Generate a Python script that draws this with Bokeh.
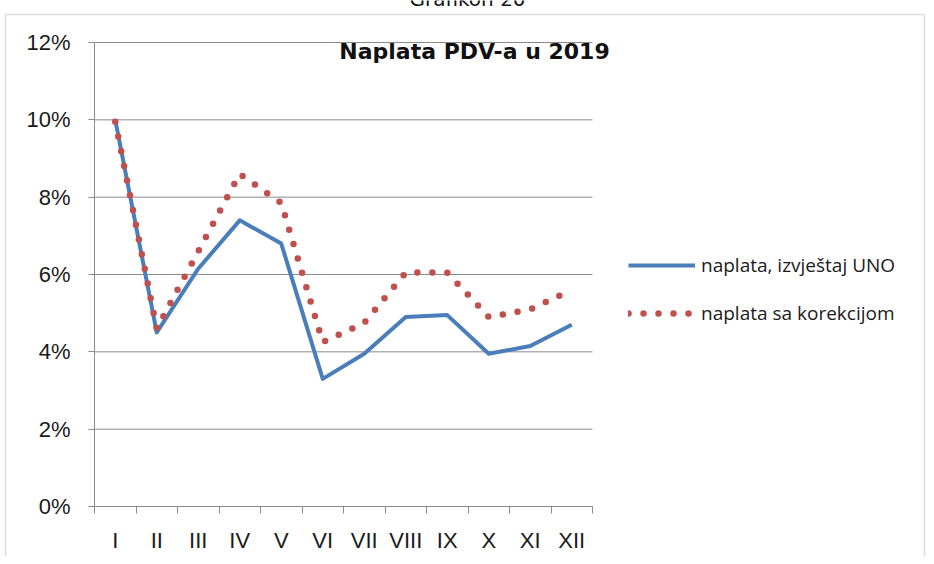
from bokeh.plotting import figure
from bokeh.models import (FixedTicker, Legend, LegendItem, Label, BoxAnnotation,
                          PrintfTickFormatter)
from bokeh.embed import file_html
from bokeh.resources import INLINE

months = ["I", "II", "III", "IV", "V", "VI", "VII", "VIII", "IX", "X", "XI", "XII"]
uno = [10.0, 4.5, 6.15, 7.4, 6.8, 3.3, 3.95, 4.9, 4.95, 3.95, 4.15, 4.7]
korekcija = [9.95, 4.6, 6.6, 8.6, 7.85, 4.25, 4.75, 6.05, 6.05, 4.9, 5.1, 5.6]
y_ticks = [0, 2, 4, 6, 8, 10, 12]

x = list(range(1, len(months) + 1))

# layout (pixels on the canvas)
W, H = 926, 556
AX_L, AX_R, AX_T, AX_B = 94, 592, 42, 506   # plotting area in canvas pixels
n = len(months)
x_lo, x_hi = 0.5, n + 0.5
y_lo, y_hi = y_ticks[0], y_ticks[-1]
xpp = (x_hi - x_lo) / (AX_R - AX_L)
ypp = (y_hi - y_lo) / (AX_B - AX_T)

p = figure(width=W, height=H, output_backend="svg", toolbar_location=None,
           x_range=(x_lo - AX_L * xpp, x_hi + (W - AX_R) * xpp),
           y_range=(y_lo - (H - AX_B) * ypp, y_hi + AX_T * ypp),
           min_border_left=0, min_border_right=0, min_border_top=0, min_border_bottom=0)
p.outline_line_color = None
p.background_fill_color = "white"
p.border_fill_color = "white"
p.xgrid.visible = False
p.ygrid.visible = False

grid_col = "#8a8a8a"
p.segment(x0=[x_lo] * len(y_ticks), x1=[x_hi] * len(y_ticks), y0=y_ticks, y1=y_ticks,
          line_color=grid_col, line_width=1)

p.yaxis.fixed_location = x_lo
p.yaxis.bounds = (y_lo, y_hi)
p.yaxis.ticker = FixedTicker(ticks=y_ticks)
p.yaxis.formatter = PrintfTickFormatter(format="%d%%")
p.yaxis.axis_line_color = grid_col
p.yaxis.major_tick_line_color = grid_col
p.yaxis.major_tick_out = 6
p.yaxis.major_tick_in = 0
p.yaxis.minor_tick_line_color = None
p.yaxis.major_label_standoff = 18

p.xaxis.fixed_location = y_lo
p.xaxis.bounds = (x_lo, x_hi)
p.xaxis.ticker = FixedTicker(ticks=x, minor_ticks=[i + 0.5 for i in range(0, n + 1)])
p.xaxis.major_label_overrides = {i: m for i, m in zip(x, months)}
p.xaxis.axis_line_color = grid_col
p.xaxis.major_tick_line_color = None
p.xaxis.major_tick_out = 0
p.xaxis.minor_tick_line_color = grid_col
p.xaxis.minor_tick_out = 7
p.xaxis.minor_tick_in = 0
p.xaxis.major_label_standoff = 14

for ax in (p.xaxis, p.yaxis):
    ax.major_label_text_font = "Liberation Sans"
    ax.major_label_text_font_size = "22px"
    ax.major_label_text_color = "#1a1a1a"

r1 = p.line(x, uno, line_color="#4a7ebb", line_width=4, line_join="round")
r2 = p.line(x, korekcija, line_color="#c0504d", line_width=6.5, line_dash="0 15",
            line_cap="round", line_join="round")

legend = Legend(items=[LegendItem(label="naplata, izvještaj UNO", renderers=[r1]),
                       LegendItem(label="naplata sa korekcijom", renderers=[r2])],
                location=(628, H - 326), orientation="vertical",
                glyph_width=67, glyph_height=24, label_height=24, spacing=22,
                padding=0, margin=0, label_standoff=6,
                border_line_color=None, background_fill_alpha=0,
                label_text_font="Open Sans", label_text_font_size="19px",
                label_text_color="#1a1a1a")
p.add_layout(legend, "center")

p.add_layout(Label(x=474, y=H - 51, x_units="screen", y_units="screen",
                   text="Naplata PDV-a u 2019", text_align="center", text_baseline="middle",
                   text_font="DejaVu Sans", text_font_style="bold", text_font_size="22px",
                   text_color="#111111"))
p.add_layout(Label(x=467, y=H - 10, x_units="screen", y_units="screen",
                   text="Grafikon 20", text_align="center", text_baseline="bottom",
                   text_font="DejaVu Sans", text_font_size="20px", text_color="#111111"))
p.add_layout(BoxAnnotation(left=5, right=W - 2, top=H - 14, bottom=-20,
                           left_units="screen", right_units="screen",
                           top_units="screen", bottom_units="screen",
                           fill_color=None, line_color="#8c8c8c", line_width=1.5))

open("out.html", "w").write(file_html(p, INLINE))
